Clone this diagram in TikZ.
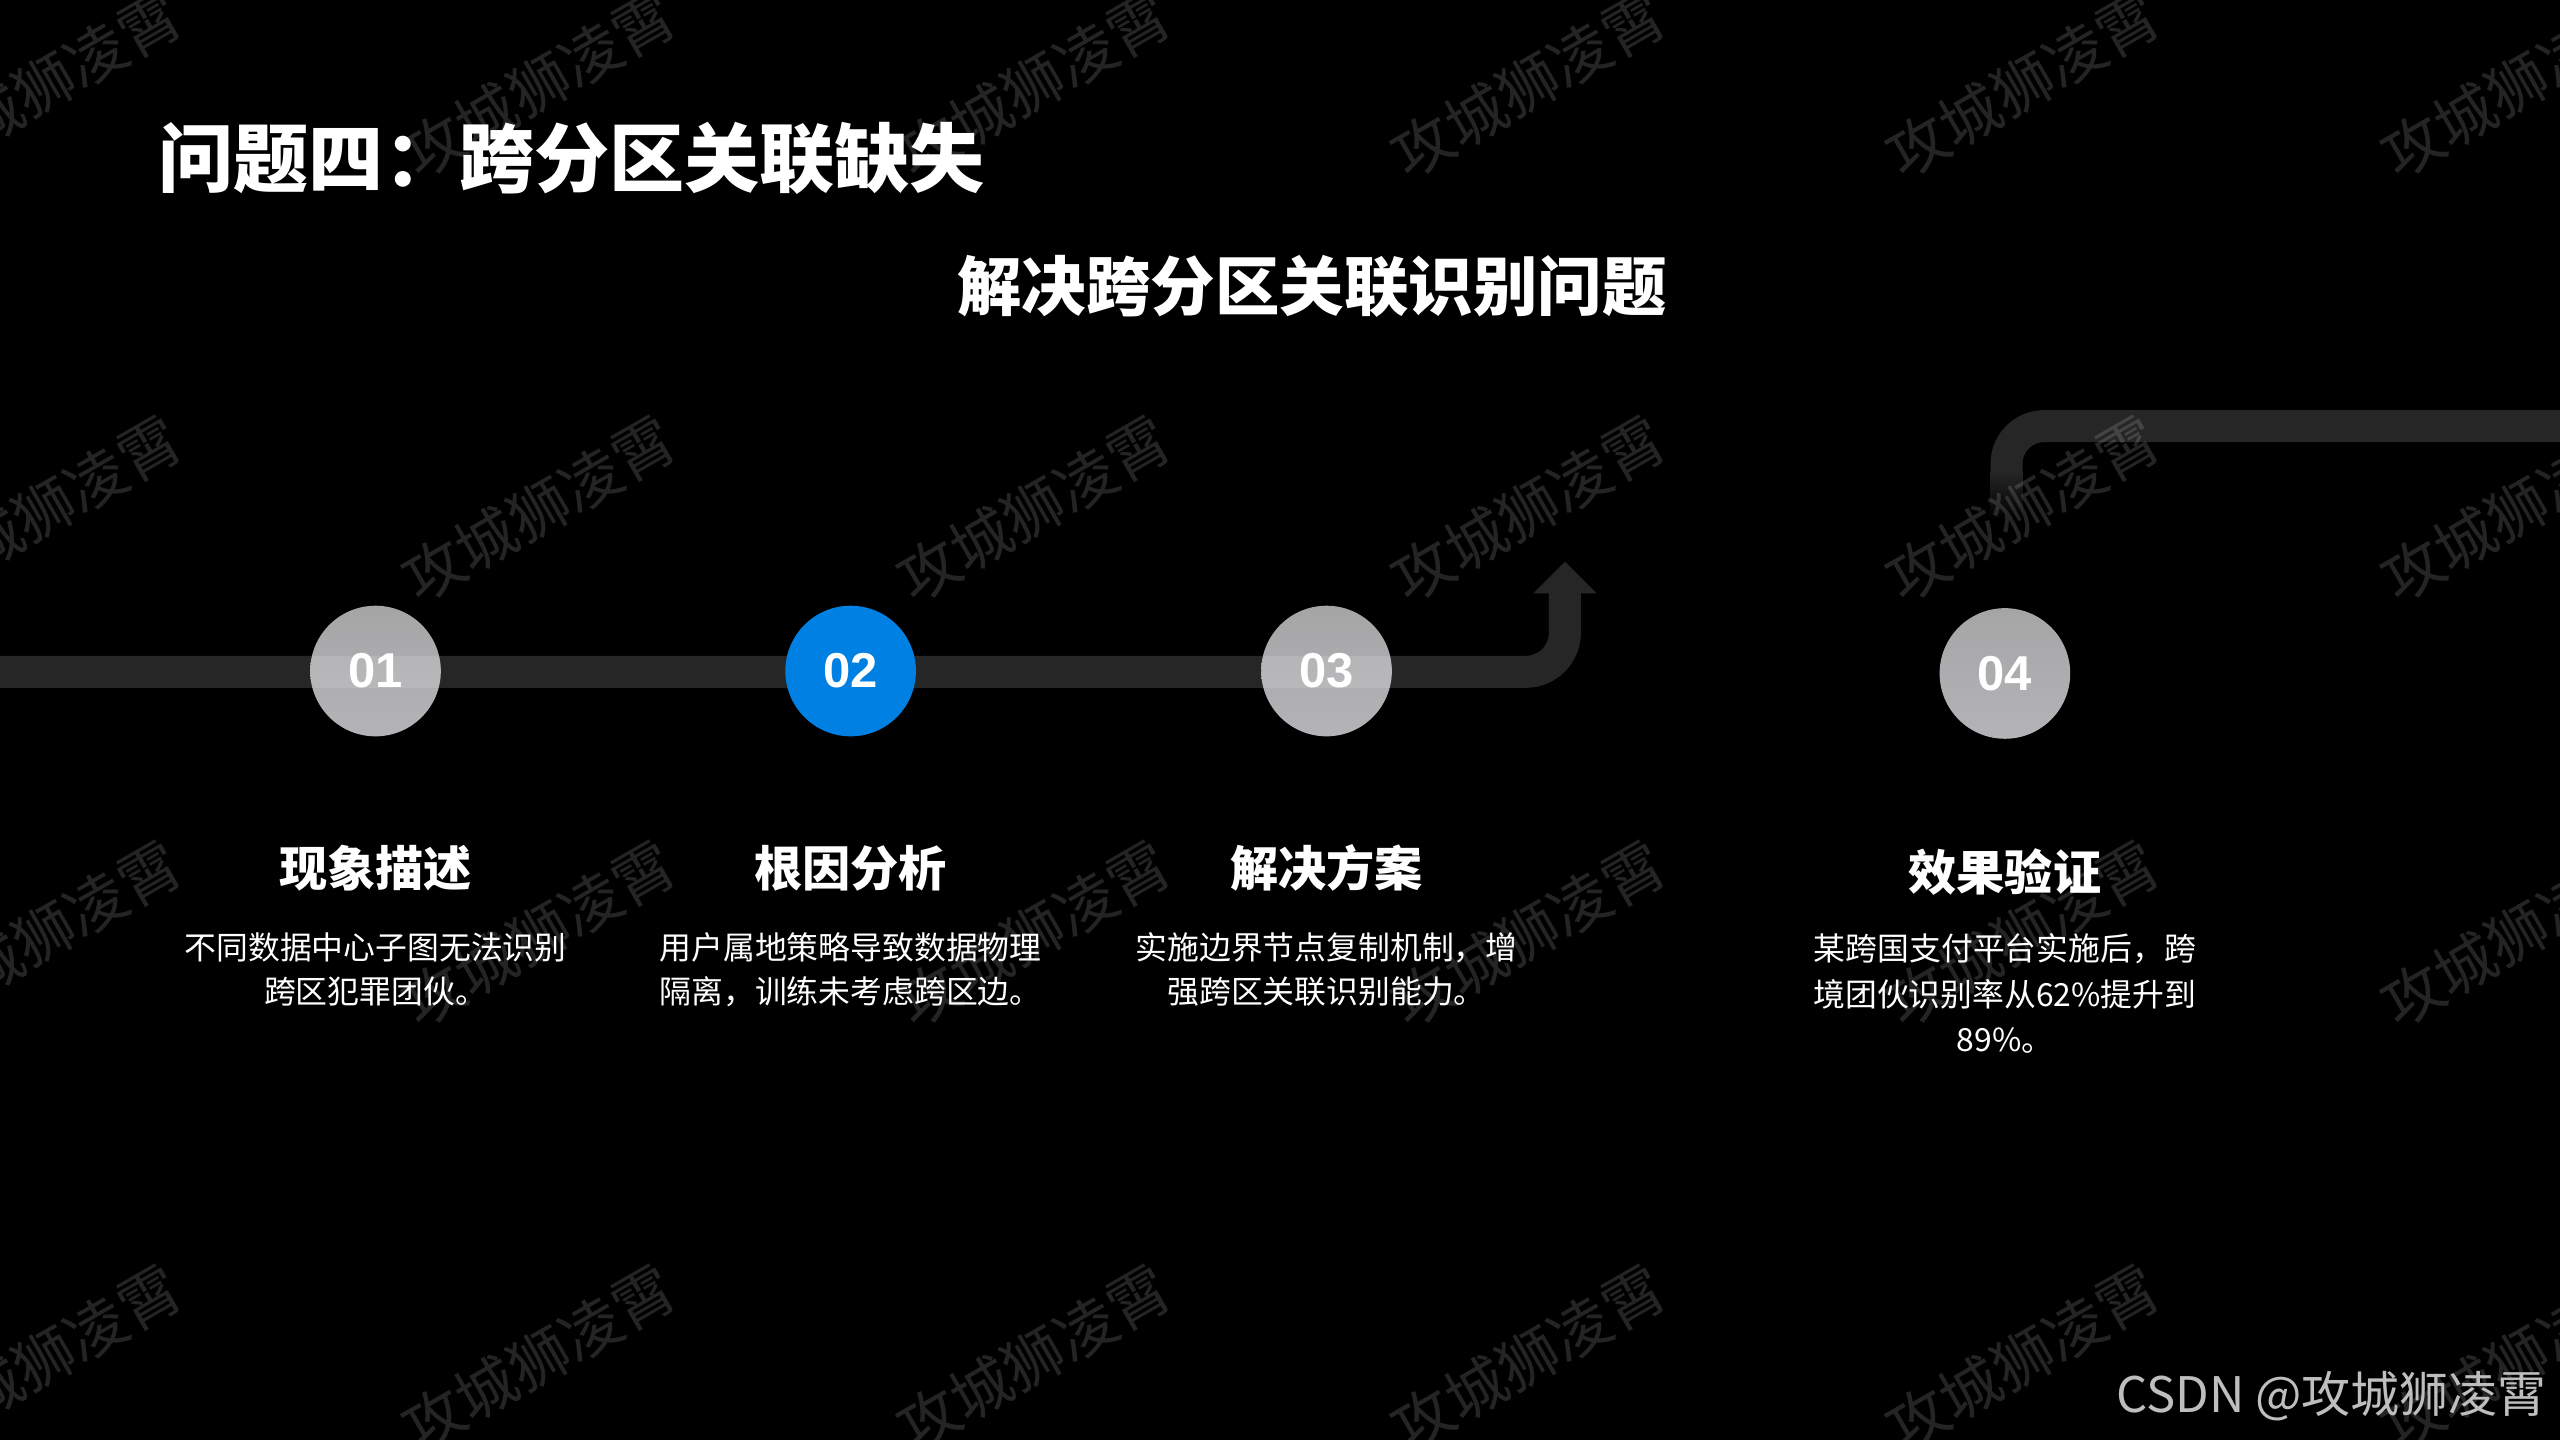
\documentclass[tikz,border=0pt]{standalone}
\usepackage{fontspec}
\setmainfont{Noto Sans CJK SC}
\newfontfamily\numfont{Liberation Sans}
\definecolor{trackc}{HTML}{262626}
\definecolor{cgtop}{HTML}{A5A5A6}
\definecolor{cgbot}{HTML}{B4B4B8}
\definecolor{blueC}{HTML}{0080E2}
\definecolor{csdnc}{HTML}{BEBEBE}
\begin{document}
\begin{tikzpicture}[x=1pt,y=-1pt,
  track/.style={line width=19.6pt, draw=trackc},
  numc/.style={circle, minimum size=80pt, inner sep=0pt, text=white, font=\numfont\bfseries\fontsize{30}{36}\selectfont},
  graycirc/.style={numc, top color=cgtop, bottom color=cgbot},
  bluecirc/.style={numc, fill=blueC},
  heading/.style={anchor=base, inner sep=0pt, text=white, font=\bfseries\fontsize{29.5}{35}\selectfont},
  desc/.style={anchor=base, inner sep=0pt, text=white, font=\fontsize{19.5}{27.5}\selectfont},
  wmark/.style={rotate=30, text=white, opacity=0.14, font=\fontsize{37}{40}\selectfont, inner sep=0pt},
  bandlight/.style={fill=white, opacity=0.13},
]
\fill[black] (0,0) rectangle (1568,882);
\useasboundingbox (0,0) rectangle (1568,882);

% titles
\node[anchor=base west, inner sep=0pt, text=white, font=\bfseries\fontsize{46}{52}\selectfont] (title) at (97,114) {问题四：跨分区关联缺失};
\node[anchor=base, inner sep=0pt, text=white, font=\bfseries\fontsize{39.5}{46}\selectfont] (sub) at (803.6,190) {解决跨分区关联识别问题};

% lower track with arrow
\coordinate (tS) at (-5,411.5);
\coordinate (tC) at (958.5,411.5);
\coordinate (tE) at (958.5,362);
\coordinate (tL) at (939,363.5);
\coordinate (tR) at (978,363.5);
\coordinate (tT) at (958.5,344);
\draw[track, rounded corners=24pt] (tS) -- (tC) -- (tE);
\fill[trackc] (tL) -- (tR) -- (tT) -- cycle;

% upper track
\coordinate (uS) at (1229,289);
\coordinate (uC) at (1229,261);
\coordinate (uE) at (1575,261);
\draw[track, rounded corners=23pt] (uS) -- (uC) -- (uE);
\shade[top color=trackc, bottom color=black] (1219.2,288.5) rectangle (1238.8,318);

% circles
\node[graycirc] (c1) at (230,411) {01};
\node[graycirc] (c3) at (812.5,411) {03};
\node[graycirc] (c4) at (1228,412.5) {04};
\begin{scope}
  \clip (c1.center) circle (40pt);
  \fill[bandlight] (185,401.7) rectangle (275,421.3);
\end{scope}
\begin{scope}
  \clip (c3.center) circle (40pt);
  \fill[bandlight] (767,401.7) rectangle (858,421.3);
\end{scope}
\node[bluecirc] (c2) at (521,411) {02};

% column 1
\node[heading] (h1) at (230,543.2) {现象描述};
\node[desc] (d1a) at (230,587.4) {不同数据中心子图无法识别};
\node[desc] (d1b) at (230,614.9) {跨区犯罪团伙。};
% column 2
\node[heading] (h2) at (521,543.2) {根因分析};
\node[desc] (d2a) at (521,587.4) {用户属地策略导致数据物理};
\node[desc] (d2b) at (521,614.9) {隔离，训练未考虑跨区边。};
% column 3
\node[heading] (h3) at (812.5,543.2) {解决方案};
\node[desc] (d3a) at (812.5,587.4) {实施边界节点复制机制，增};
\node[desc] (d3b) at (812.5,614.9) {强跨区关联识别能力。};
% column 4
\node[heading] (h4) at (1228,545.2) {效果验证};
\node[desc] (d4a) at (1228,588.4) {某跨国支付平台实施后，跨};
\node[desc] (d4b) at (1228,616.2) {境团伙识别率从62\%提升到};
\node[desc] (d4c) at (1228,644.0) {89\%。};

% watermarks
\foreach \i in {0,...,5}{
  \foreach \j in {0,...,3}{
    \node[wmark] (w\i\j) at ({27+303*\i},{52+260*\j}) {攻城狮凌霄};
  }
}

\node[anchor=base east, inner sep=0pt, text=csdnc, font=\fontsize{30}{33}\selectfont] (csdn) at (1560,865) {CSDN @攻城狮凌霄};
\end{tikzpicture}
\end{document}
